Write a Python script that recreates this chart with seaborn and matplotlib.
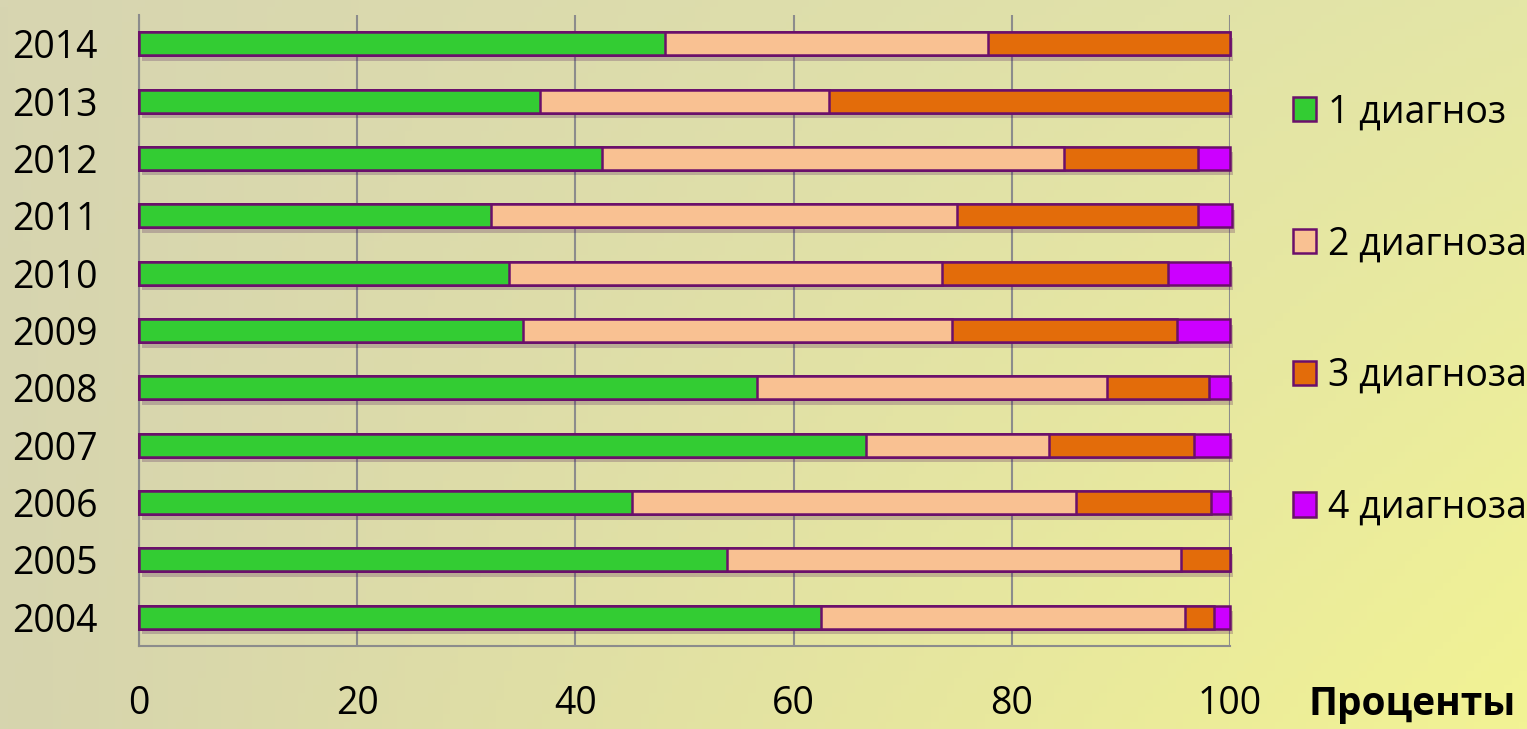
import numpy as np
import pandas as pd
import seaborn as sns
import matplotlib
matplotlib.use("Agg")
import matplotlib.pyplot as plt
import matplotlib.patheffects as pe
from matplotlib.patches import Patch
from matplotlib.colors import to_rgb

years = ["2004", "2005", "2006", "2007", "2008", "2009", "2010", "2011", "2012", "2013", "2014"]
diag1 = [62.5, 53.9, 45.2, 66.6, 56.6, 35.2, 33.9, 32.3, 42.4, 36.8, 48.2]
diag2 = [33.4, 41.6, 40.7, 16.8, 32.1, 39.3, 39.7, 42.7, 42.4, 26.4, 29.6]
diag3 = [2.6, 4.5, 12.4, 13.3, 9.4, 20.6, 20.7, 22.1, 12.3, 36.8, 22.2]
diag4 = [1.5, 0.0, 1.7, 3.3, 1.9, 4.9, 5.7, 3.1, 2.9, 0.0, 0.0]
labels = ["1 диагноз", "2 диагноза", "3 диагноза", "4 диагноза"]
colors = ["#33cc33", "#f9c192", "#e36c0a", "#cc00ff"]
edge = "#6b0f6b"

df = pd.DataFrame({"year": years, "d1": diag1, "d2": diag2, "d3": diag3, "d4": diag4})
df["c1"] = df["d1"]
df["c2"] = df["c1"] + df["d2"]
df["c3"] = df["c2"] + df["d3"]
df["c4"] = df["c3"] + df["d4"]
order = years[::-1]

sns.set_style("white")
plt.rcParams["font.family"] = ["Open Sans", "DejaVu Sans"]
plt.rcParams["text.color"] = "black"

fig = plt.figure(figsize=(15.27, 7.29), dpi=100)

# background gradient
bg = fig.add_axes([0, 0, 1, 1], zorder=-10)
tl, tr = np.array(to_rgb("#d7d5b1")), np.array(to_rgb("#e4e6a6"))
bl, br = np.array(to_rgb("#d6d4ae")), np.array(to_rgb("#f2f394"))
u = np.linspace(0, 1, 200)[None, :, None]
v = np.linspace(0, 1, 100)[:, None, None]
img = (1 - v) * ((1 - u) * tl + u * tr) + v * ((1 - u) * bl + u * br)
bg.imshow(img, aspect="auto", extent=[0, 1, 0, 1])
bg.axis("off")

ax = fig.add_axes([139 / 1527, 1 - 646 / 729, (1230 - 139) / 1527, (646 - 15) / 729])
ax.set_facecolor("none")

for i, col in enumerate(["c4", "c3", "c2", "c1"]):
    sns.barplot(data=df, x=col, y="year", order=order, orient="h", color=colors[3 - i],
                saturation=1, width=0.4, edgecolor=edge, linewidth=1.8, ax=ax, zorder=3)
    if i == 0:
        for p in ax.patches:
            p.set_path_effects([pe.SimplePatchShadow(offset=(2, -4), alpha=0.22), pe.Normal()])
for p in ax.patches:
    p.set_clip_on(False)

ax.set_xlim(0, 100)
ax.set_ylim(10.5, -0.5)
ax.set_xticks([0, 20, 40, 60, 80, 100])
ax.set_xlabel("")
ax.set_ylabel("")
ax.grid(axis="x", color="#8c8c8c", linewidth=1.5, zorder=0)
ax.set_axisbelow(True)
for s in ["top", "right"]:
    ax.spines[s].set_visible(False)
for s in ["left", "bottom"]:
    ax.spines[s].set_color("#8c8c8c")
    ax.spines[s].set_linewidth(1.5)

ax.tick_params(axis="x", length=10, width=1.5, color="#8c8c8c", pad=18, labelsize=27,
               labelcolor="black")
ax.tick_params(axis="y", which="major", length=0, pad=30, labelsize=27, labelcolor="black")
ax.set_yticks(np.arange(-0.5, 11, 1), minor=True)
ax.tick_params(axis="y", which="minor", length=9, width=1.5, color="#8c8c8c")

handles = [Patch(facecolor=c, edgecolor=edge, linewidth=1.8) for c in colors]
fig.legend(handles=handles, labels=labels, loc="center left",
           bbox_to_anchor=(1293 / 1527, 1 - 310 / 729), frameon=False, fontsize=27,
           handlelength=0.62, handleheight=0.62, handletextpad=0.3, labelspacing=2.5,
           borderpad=0, borderaxespad=0, labelcolor="black")

fig.text(1412 / 1527, 1 - 705 / 729, "Проценты", ha="center", va="center",
         fontsize=28, fontweight="bold", color="black")

fig.savefig("out.png", dpi=100)
